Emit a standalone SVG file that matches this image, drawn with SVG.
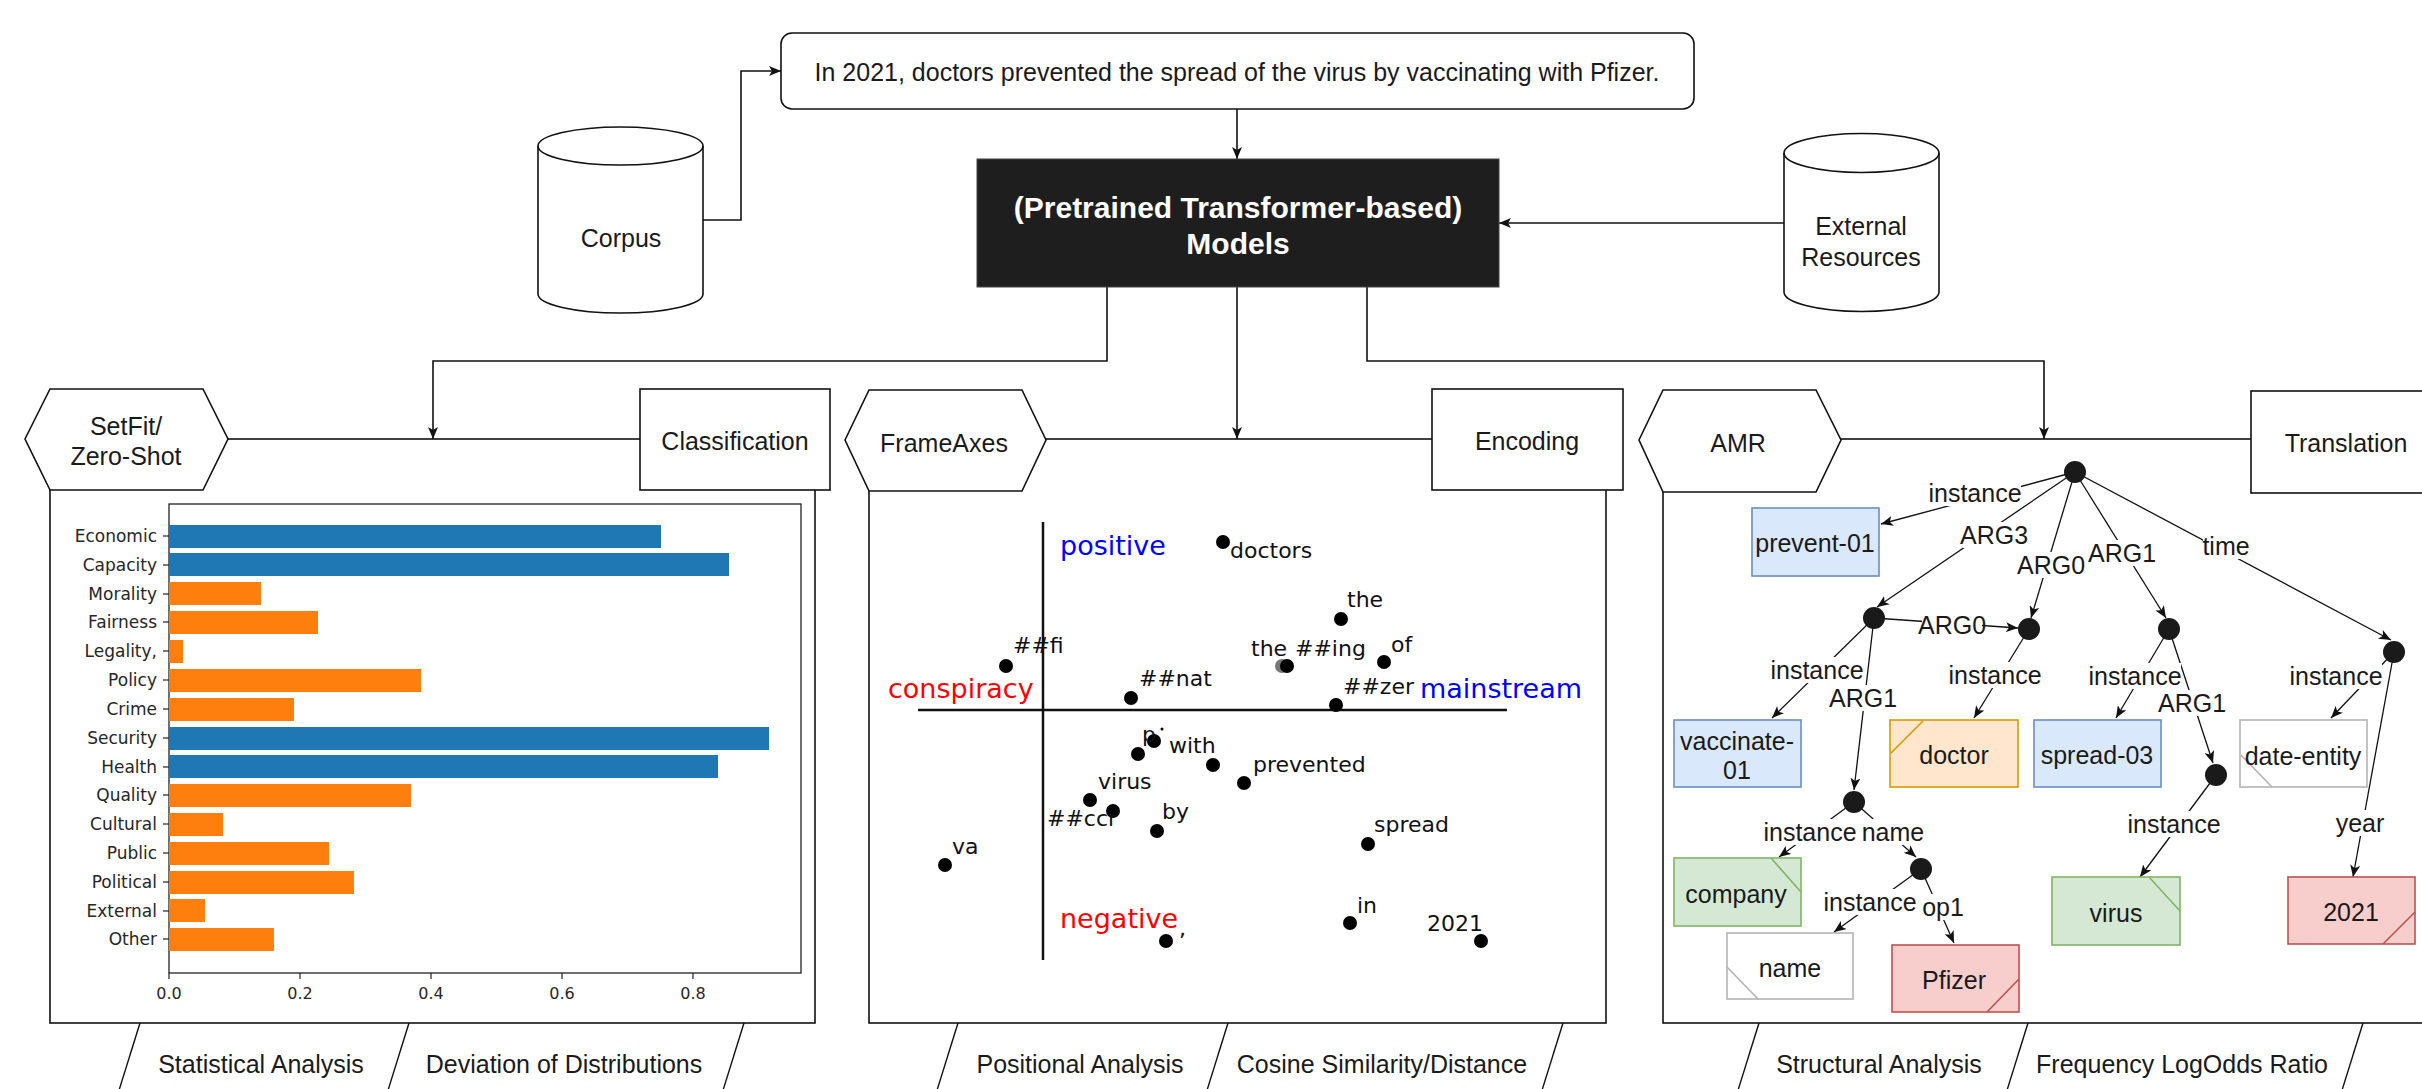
<svg xmlns="http://www.w3.org/2000/svg" width="2422" height="1089" viewBox="0 0 2422 1089">
<defs>
<marker id="arr" viewBox="0 0 12 10" refX="12" refY="5" markerWidth="12" markerHeight="10" markerUnits="userSpaceOnUse" orient="auto">
<path d="M0,0 L12,5 L0,10 L3,5 Z" fill="#111"/>
</marker>
<style>
.t{font-family:"Liberation Sans",Arial,sans-serif;font-size:25px;fill:#1a1a1a;text-anchor:middle;dominant-baseline:central}
.tb{font-family:"Liberation Sans",Arial,sans-serif;font-size:30px;font-weight:bold;fill:#fff;text-anchor:middle;dominant-baseline:central}
.ln{fill:none;stroke:#111;stroke-width:1.6}
.sh{fill:#fff;stroke:#111;stroke-width:1.6}
.ax{font-family:"DejaVu Sans",sans-serif;font-size:17px;fill:#262626;text-anchor:end;dominant-baseline:central}
.axx{font-family:"DejaVu Sans",sans-serif;font-size:16px;fill:#262626;text-anchor:middle;dominant-baseline:central}
.bb{fill:#1f77b4}
.bo{fill:#ff7f0e}
.sl{font-family:"DejaVu Sans",sans-serif;font-size:22px;fill:#111}
.big{font-family:"DejaVu Sans",sans-serif;font-size:27px}
.dot{fill:#000}
.nd{fill:#1a1a1a}
.lbl{fill:#fff}
.blue{fill:#dae8fc;stroke:#6c8ebf;stroke-width:1.6}
.org{fill:#ffe6cc;stroke:#d79b00;stroke-width:1.6}
.grn{fill:#d5e8d4;stroke:#82b366;stroke-width:1.6}
.red{fill:#f8cecc;stroke:#b85450;stroke-width:1.6}
.wht{fill:#fff;stroke:#b3b3b3;stroke-width:1.6}
.e{fill:none;stroke:#111;stroke-width:1.3}
</style>
</defs>
<rect width="2422" height="1089" fill="#fff"/>

<!-- panels (drawn first, their top edge is the horizontal line) -->
<g id="panel-classification">
<rect x="50" y="439" width="765" height="584" class="sh"/>
</g>
<g id="panel-encoding">
<rect x="869" y="439" width="737" height="584" class="sh"/>
</g>
<g id="panel-translation">
<rect x="1663" y="439" width="780" height="584" class="sh"/>
</g>

<!-- connectors -->
<g id="connectors">
<polyline class="ln" points="703,220 741,220 741,71 781,71" marker-end="url(#arr)"/>
<line class="ln" x1="1237" y1="109" x2="1237" y2="159" marker-end="url(#arr)"/>
<line class="ln" x1="1784" y1="223" x2="1499" y2="223" marker-end="url(#arr)"/>
<polyline class="ln" points="1107,287 1107,361 433,361 433,439" marker-end="url(#arr)"/>
<line class="ln" x1="1237" y1="287" x2="1237" y2="439" marker-end="url(#arr)"/>
<polyline class="ln" points="1367,287 1367,361 2044,361 2044,439" marker-end="url(#arr)"/>
</g>

<g id="sentence">
<rect x="781" y="33" width="913" height="76" rx="11" class="sh"/>
<text class="t" x="1237" y="72">In 2021, doctors prevented the spread of the virus by vaccinating with Pfizer.</text>
</g>

<g id="corpus">
<path class="sh" d="M538,146 A82.5,19 0 0 1 703,146 L703,294 A82.5,19 0 0 1 538,294 Z"/>
<path class="ln" d="M538,146 A82.5,19 0 0 0 703,146"/>
<text class="t" x="621" y="238">Corpus</text>
</g>

<g id="external">
<path class="sh" d="M1784,153 A77.5,19.5 0 0 1 1939,153 L1939,292 A77.5,19.5 0 0 1 1784,292 Z"/>
<path class="ln" d="M1784,153 A77.5,19.5 0 0 0 1939,153"/>
<text class="t" x="1861" y="226">External</text>
<text class="t" x="1861" y="257">Resources</text>
</g>

<g id="models">
<rect x="977" y="159" width="522" height="128" fill="#1e1e1e" stroke="#444" stroke-width="1"/>
<text class="tb" x="1238" y="207">(Pretrained Transformer-based)</text>
<text class="tb" x="1238" y="243">Models</text>
</g>

<!-- headers -->
<g id="setfit">
<polygon class="sh" points="25,439 50,389 203,389 228,439 203,490 50,490"/>
<text class="t" x="126" y="426">SetFit/</text>
<text class="t" x="126" y="456">Zero-Shot</text>
</g>
<g id="classification">
<rect x="640" y="389" width="190" height="101" class="sh"/>
<text class="t" x="735" y="441">Classification</text>
</g>
<g id="frameaxes">
<polygon class="sh" points="845,440 869,390 1022,390 1046,440 1022,491 869,491"/>
<text class="t" x="944" y="443">FrameAxes</text>
</g>
<g id="encoding">
<rect x="1432" y="389" width="191" height="101" class="sh"/>
<text class="t" x="1527" y="441">Encoding</text>
</g>
<g id="amr">
<polygon class="sh" points="1639,440 1663,390 1816,390 1841,440 1816,492 1663,492"/>
<text class="t" x="1738" y="443">AMR</text>
</g>
<g id="translation">
<rect x="2251" y="391" width="191" height="102" class="sh"/>
<text class="t" x="2346" y="443">Translation</text>
</g>

<!-- bar chart -->
<g id="bar-chart">
<rect x="169" y="504" width="632" height="469" fill="none" stroke="#222" stroke-width="1.3"/>
<g>
<rect class="bb" x="169" y="525" width="492" height="23"/>
<rect class="bb" x="169" y="553" width="560" height="23"/>
<rect class="bo" x="169" y="582" width="92" height="23"/>
<rect class="bo" x="169" y="611" width="149" height="23"/>
<rect class="bo" x="169" y="640" width="14" height="23"/>
<rect class="bo" x="169" y="669" width="252" height="23"/>
<rect class="bo" x="169" y="698" width="125" height="23"/>
<rect class="bb" x="169" y="727" width="600" height="23"/>
<rect class="bb" x="169" y="755" width="549" height="23"/>
<rect class="bo" x="169" y="784" width="242" height="23"/>
<rect class="bo" x="169" y="813" width="54" height="23"/>
<rect class="bo" x="169" y="842" width="160" height="23"/>
<rect class="bo" x="169" y="871" width="185" height="23"/>
<rect class="bo" x="169" y="899" width="36" height="23"/>
<rect class="bo" x="169" y="928" width="105" height="23"/>
</g>
<g stroke="#222" stroke-width="1.2">
<line x1="163" y1="536" x2="169" y2="536"/><line x1="163" y1="565" x2="169" y2="565"/>
<line x1="163" y1="594" x2="169" y2="594"/><line x1="163" y1="622" x2="169" y2="622"/>
<line x1="163" y1="651" x2="169" y2="651"/><line x1="163" y1="680" x2="169" y2="680"/>
<line x1="163" y1="709" x2="169" y2="709"/><line x1="163" y1="738" x2="169" y2="738"/>
<line x1="163" y1="767" x2="169" y2="767"/><line x1="163" y1="795" x2="169" y2="795"/>
<line x1="163" y1="824" x2="169" y2="824"/><line x1="163" y1="853" x2="169" y2="853"/>
<line x1="163" y1="882" x2="169" y2="882"/><line x1="163" y1="911" x2="169" y2="911"/>
<line x1="163" y1="939" x2="169" y2="939"/>
<line x1="169" y1="973" x2="169" y2="979"/><line x1="300" y1="973" x2="300" y2="979"/>
<line x1="431" y1="973" x2="431" y2="979"/><line x1="562" y1="973" x2="562" y2="979"/>
<line x1="693" y1="973" x2="693" y2="979"/>
</g>
<text class="ax" x="157" y="536">Economic</text>
<text class="ax" x="157" y="565">Capacity</text>
<text class="ax" x="157" y="594">Morality</text>
<text class="ax" x="157" y="622">Fairness</text>
<text class="ax" x="157" y="651">Legality,</text>
<text class="ax" x="157" y="680">Policy</text>
<text class="ax" x="157" y="709">Crime</text>
<text class="ax" x="157" y="738">Security</text>
<text class="ax" x="157" y="767">Health</text>
<text class="ax" x="157" y="795">Quality</text>
<text class="ax" x="157" y="824">Cultural</text>
<text class="ax" x="157" y="853">Public</text>
<text class="ax" x="157" y="882">Political</text>
<text class="ax" x="157" y="911">External</text>
<text class="ax" x="157" y="939">Other</text>
<text class="axx" x="169" y="993">0.0</text>
<text class="axx" x="300" y="993">0.2</text>
<text class="axx" x="431" y="993">0.4</text>
<text class="axx" x="562" y="993">0.6</text>
<text class="axx" x="693" y="993">0.8</text>
</g>

<!-- scatter -->
<g id="scatter">
<line x1="1043" y1="522" x2="1043" y2="960" stroke="#111" stroke-width="2.5"/>
<line x1="918" y1="710" x2="1507" y2="710" stroke="#111" stroke-width="2.5"/>
<text class="sl big" x="1060" y="555" style="fill:#0000ff">positive</text>
<text class="sl big" x="888" y="698" style="fill:#ff0000">conspiracy</text>
<text class="sl big" x="1420" y="698" style="fill:#0000ff">mainstream</text>
<text class="sl big" x="1060" y="928" style="fill:#ff0000">negative</text>
<g class="dot">
<circle cx="1223" cy="542" r="7"/>
<circle cx="1341" cy="619" r="7"/>
<circle cx="1282" cy="666" r="7" fill="#777"/>
<circle cx="1287" cy="666" r="7"/>
<circle cx="1384" cy="662" r="7"/>
<circle cx="1006" cy="666" r="7"/>
<circle cx="1131" cy="698" r="7"/>
<circle cx="1336" cy="705" r="7"/>
<circle cx="1154" cy="741" r="7"/>
<circle cx="1138" cy="754" r="7"/>
<circle cx="1213" cy="765" r="7"/>
<circle cx="1244" cy="783" r="7"/>
<circle cx="1090" cy="800" r="7"/>
<circle cx="1113" cy="811" r="7"/>
<circle cx="1157" cy="831" r="7"/>
<circle cx="1368" cy="844" r="7"/>
<circle cx="945" cy="865" r="7"/>
<circle cx="1350" cy="923" r="7"/>
<circle cx="1166" cy="941" r="7"/>
<circle cx="1481" cy="941" r="7"/>
<circle cx="1162" cy="729" r="1.5"/>
</g>
<text class="sl" x="1230" y="558">doctors</text>
<text class="sl" x="1347" y="607">the</text>
<text class="sl" x="1251" y="656">the</text>
<text class="sl" x="1295" y="656">##ing</text>
<text class="sl" x="1391" y="652">of</text>
<text class="sl" x="1013" y="653">##fi</text>
<text class="sl" x="1139" y="686">##nat</text>
<text class="sl" x="1343" y="694">##zer</text>
<text class="sl" x="1142" y="742">p</text>
<text class="sl" x="1169" y="753">with</text>
<text class="sl" x="1253" y="772">prevented</text>
<text class="sl" x="1098" y="789">virus</text>
<text class="sl" x="1047" y="826">##ccr</text>
<text class="sl" x="1162" y="819">by</text>
<text class="sl" x="1374" y="832">spread</text>
<text class="sl" x="952" y="854">va</text>
<text class="sl" x="1357" y="913">in</text>
<text class="sl" x="1427" y="931">2021</text>
<text class="sl" x="1179" y="936">,</text>
</g>

<!-- AMR graph -->
<g id="amr-edges">
<line class="e" x1="2075" y1="472" x2="1881" y2="524" marker-end="url(#arr)"/>
<line class="e" x1="2075" y1="472" x2="1877" y2="607" marker-end="url(#arr)"/>
<line class="e" x1="2075" y1="472" x2="2031" y2="618" marker-end="url(#arr)"/>
<line class="e" x1="2075" y1="472" x2="2166" y2="618" marker-end="url(#arr)"/>
<line class="e" x1="2075" y1="472" x2="2391" y2="640" marker-end="url(#arr)"/>
<line class="e" x1="1874" y1="618" x2="2018" y2="628" marker-end="url(#arr)"/>
<line class="e" x1="1874" y1="618" x2="1772" y2="718" marker-end="url(#arr)"/>
<line class="e" x1="1874" y1="618" x2="1854" y2="790" marker-end="url(#arr)"/>
<line class="e" x1="2029" y1="629" x2="1974" y2="718" marker-end="url(#arr)"/>
<line class="e" x1="2169" y1="629" x2="2116" y2="718" marker-end="url(#arr)"/>
<line class="e" x1="2169" y1="629" x2="2213" y2="763" marker-end="url(#arr)"/>
<line class="e" x1="2394" y1="652" x2="2331" y2="718" marker-end="url(#arr)"/>
<line class="e" x1="2394" y1="652" x2="2353" y2="877" marker-end="url(#arr)"/>
<line class="e" x1="1854" y1="802" x2="1779" y2="857" marker-end="url(#arr)"/>
<line class="e" x1="1854" y1="802" x2="1916" y2="857" marker-end="url(#arr)"/>
<line class="e" x1="1921" y1="869" x2="1834" y2="932" marker-end="url(#arr)"/>
<line class="e" x1="1921" y1="869" x2="1954" y2="943" marker-end="url(#arr)"/>
<line class="e" x1="2216" y1="775" x2="2140" y2="877" marker-end="url(#arr)"/>
</g>
<g id="amr-labels">
<rect class="lbl" x="1929" y="480" width="92" height="26"/><text class="t" x="1975" y="493">instance</text>
<rect class="lbl" x="1963" y="522" width="62" height="26"/><text class="t" x="1994" y="535">ARG3</text>
<rect class="lbl" x="2021" y="552" width="60" height="26"/><text class="t" x="2051" y="565">ARG0</text>
<rect class="lbl" x="2093" y="540" width="58" height="26"/><text class="t" x="2122" y="553">ARG1</text>
<rect class="lbl" x="2203" y="533" width="46" height="26"/><text class="t" x="2226" y="546">time</text>
<rect class="lbl" x="1922" y="612" width="60" height="26"/><text class="t" x="1952" y="625">ARG0</text>
<rect class="lbl" x="1771" y="657" width="92" height="26"/><text class="t" x="1817" y="670">instance</text>
<rect class="lbl" x="1834" y="685" width="58" height="26"/><text class="t" x="1863" y="698">ARG1</text>
<rect class="lbl" x="1949" y="662" width="92" height="26"/><text class="t" x="1995" y="675">instance</text>
<rect class="lbl" x="2089" y="663" width="92" height="26"/><text class="t" x="2135" y="676">instance</text>
<rect class="lbl" x="2163" y="690" width="58" height="26"/><text class="t" x="2192" y="703">ARG1</text>
<rect class="lbl" x="2290" y="663" width="92" height="26"/><text class="t" x="2336" y="676">instance</text>
<rect class="lbl" x="2337" y="810" width="46" height="26"/><text class="t" x="2360" y="823">year</text>
<rect class="lbl" x="1764" y="819" width="92" height="26"/><text class="t" x="1810" y="832">instance</text>
<rect class="lbl" x="1862" y="819" width="62" height="26"/><text class="t" x="1893" y="832">name</text>
<rect class="lbl" x="1824" y="889" width="92" height="26"/><text class="t" x="1870" y="902">instance</text>
<rect class="lbl" x="1922" y="894" width="42" height="26"/><text class="t" x="1943" y="907">op1</text>
<rect class="lbl" x="2128" y="811" width="92" height="26"/><text class="t" x="2174" y="824">instance</text>
</g>
<g id="amr-nodes">
<g id="n-root"><circle class="nd" cx="2075" cy="472" r="11"/></g>
<g id="n-arg3"><circle class="nd" cx="1874" cy="618" r="11"/></g>
<g id="n-arg0"><circle class="nd" cx="2029" cy="629" r="11"/></g>
<g id="n-arg1"><circle class="nd" cx="2169" cy="629" r="11"/></g>
<g id="n-time"><circle class="nd" cx="2394" cy="652" r="11"/></g>
<g id="n-company"><circle class="nd" cx="1854" cy="802" r="11"/></g>
<g id="n-name"><circle class="nd" cx="1921" cy="869" r="11"/></g>
<g id="n-virus"><circle class="nd" cx="2216" cy="775" r="11"/></g>
<g id="prevent-01"><rect class="blue" x="1752" y="508" width="127" height="68"/><text class="t" x="1815" y="543">prevent-01</text></g>
<g id="vaccinate-01"><rect class="blue" x="1674" y="720" width="127" height="67"/><text class="t" x="1737" y="741">vaccinate-</text><text class="t" x="1737" y="770">01</text></g>
<g id="doctor"><rect class="org" x="1890" y="720" width="128" height="67"/><line x1="1891" y1="753" x2="1923" y2="721" stroke="#d79b00" stroke-width="1.6"/><text class="t" x="1954" y="755">doctor</text></g>
<g id="spread-03"><rect class="blue" x="2034" y="720" width="127" height="67"/><text class="t" x="2097" y="755">spread-03</text></g>
<g id="date-entity"><rect class="wht" x="2240" y="720" width="127" height="67"/><line x1="2241" y1="755" x2="2272" y2="787" stroke="#b3b3b3" stroke-width="1.6"/><text class="t" x="2303" y="756">date-entity</text></g>
<g id="company"><rect class="grn" x="1674" y="858" width="127" height="68"/><line x1="1771" y1="858" x2="1801" y2="892" stroke="#82b366" stroke-width="1.6"/><text class="t" x="1736" y="894">company</text></g>
<g id="name"><rect class="wht" x="1727" y="933" width="126" height="66"/><line x1="1727" y1="967" x2="1758" y2="999" stroke="#b3b3b3" stroke-width="1.6"/><text class="t" x="1790" y="968">name</text></g>
<g id="pfizer"><rect class="red" x="1892" y="945" width="127" height="67"/><line x1="1987" y1="1012" x2="2019" y2="979" stroke="#b85450" stroke-width="1.6"/><text class="t" x="1954" y="980">Pfizer</text></g>
<g id="virus"><rect class="grn" x="2052" y="877" width="128" height="68"/><line x1="2149" y1="877" x2="2180" y2="911" stroke="#82b366" stroke-width="1.6"/><text class="t" x="2116" y="913">virus</text></g>
<g id="year-2021"><rect class="red" x="2288" y="877" width="127" height="67"/><line x1="2383" y1="944" x2="2415" y2="912" stroke="#b85450" stroke-width="1.6"/><text class="t" x="2351" y="912">2021</text></g>
</g>

<!-- bottom labels -->
<g id="bottom-left">
<g stroke="#111" stroke-width="1.4">
<line x1="140" y1="1023" x2="116" y2="1100"/>
<line x1="409" y1="1023" x2="385" y2="1100"/>
<line x1="744" y1="1023" x2="720" y2="1100"/>
</g>
<text class="t" x="261" y="1064">Statistical Analysis</text>
<text class="t" x="564" y="1064">Deviation of Distributions</text>
</g>
<g id="bottom-center">
<g stroke="#111" stroke-width="1.4">
<line x1="958" y1="1023" x2="934" y2="1100"/>
<line x1="1228" y1="1023" x2="1204" y2="1100"/>
<line x1="1563" y1="1023" x2="1539" y2="1100"/>
</g>
<text class="t" x="1080" y="1064">Positional Analysis</text>
<text class="t" x="1382" y="1064">Cosine Similarity/Distance</text>
</g>
<g id="bottom-right">
<g stroke="#111" stroke-width="1.4">
<line x1="1759" y1="1023" x2="1735" y2="1100"/>
<line x1="2028" y1="1023" x2="2004" y2="1100"/>
<line x1="2363" y1="1023" x2="2339" y2="1100"/>
</g>
<text class="t" x="1879" y="1064">Structural Analysis</text>
<text class="t" x="2182" y="1064">Frequency LogOdds Ratio</text>
</g>
</svg>
